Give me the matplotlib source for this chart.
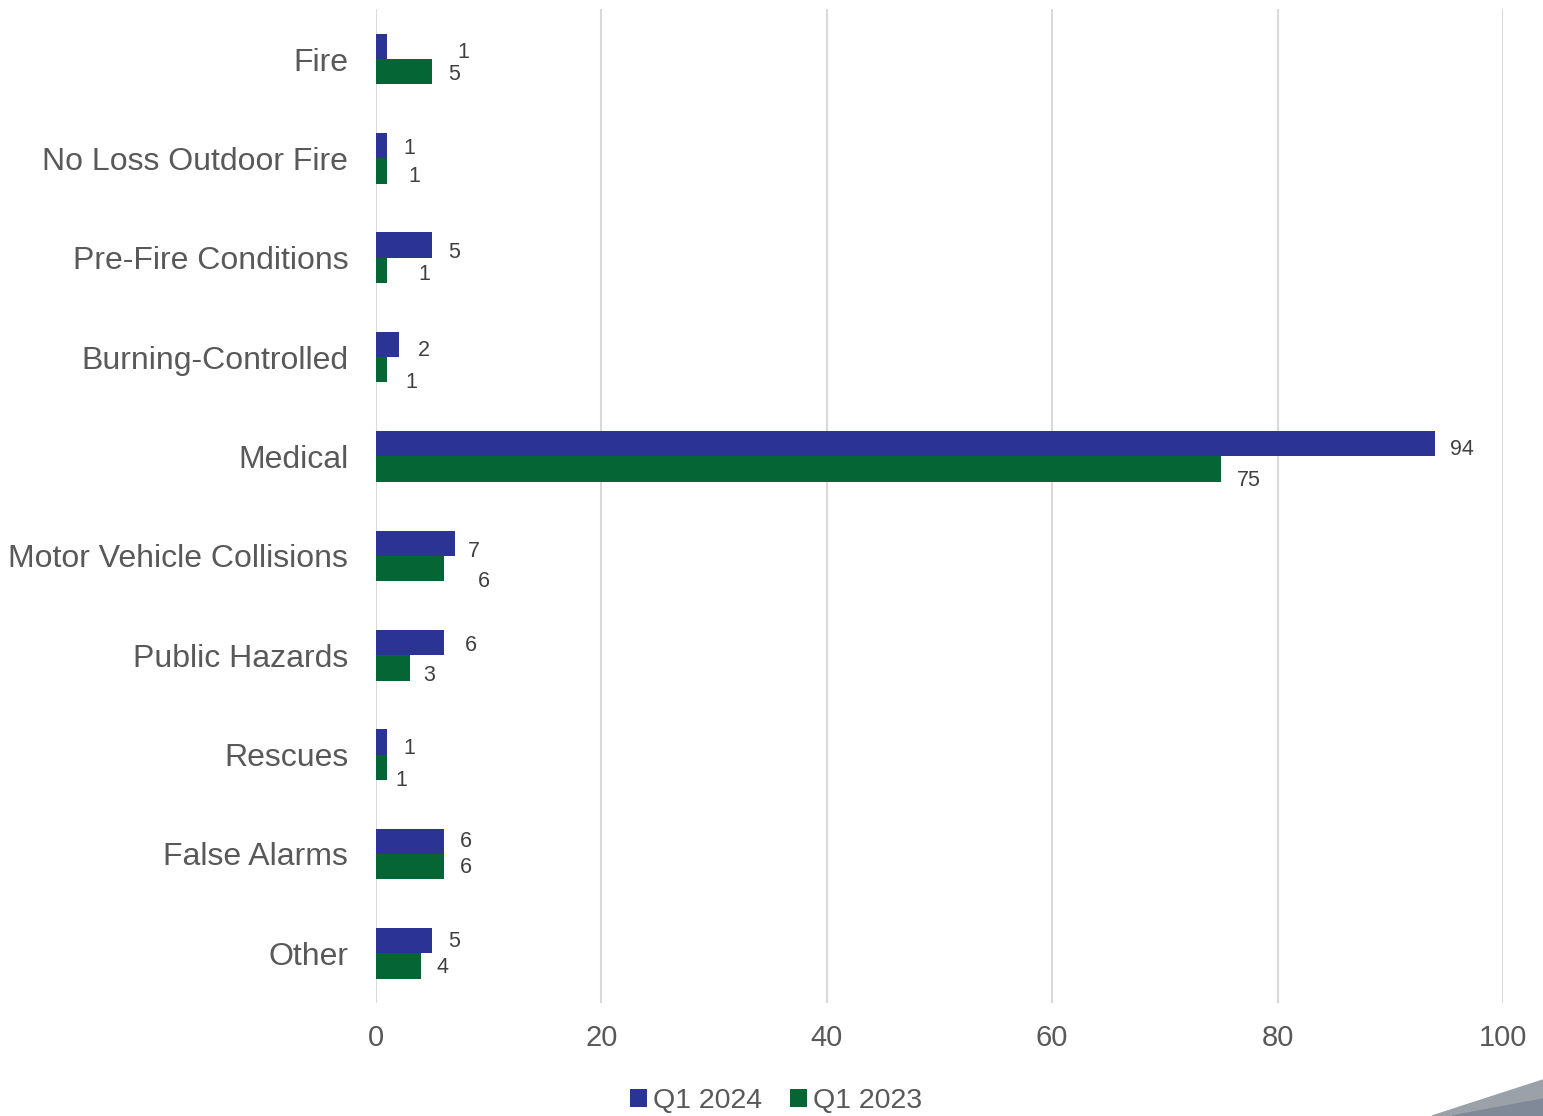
import matplotlib.pyplot as plt
import numpy as np
from matplotlib.patches import Polygon

plt.rcParams['font.family'] = ['Liberation Sans', 'DejaVu Sans']

categories = ["Fire", "No Loss Outdoor Fire", "Pre-Fire Conditions", "Burning-Controlled",
              "Medical", "Motor Vehicle Collisions", "Public Hazards", "Rescues",
              "False Alarms", "Other"]
q1_2024 = [1, 1, 5, 2, 94, 7, 6, 1, 6, 5]
q1_2023 = [5, 1, 1, 1, 75, 6, 3, 1, 6, 4]

# label nudges in pixels (dx, dy downwards) so the numbers sit like the original report
off_2024 = [(76, 6), (22, 3), (22, 7), (25, 6), (27, 6), (19, 8), (27, 3), (22, 7), (22, 0), (22, 1)]
off_2023 = [(22, 3), (27, 5), (37, 4), (24, 13), (28, 11), (40, 13), (19, 8), (14, 13), (22, 1), (21, 2)]

blue = "#2B3494"
green = "#066535"
text_col = "#595959"

fig = plt.figure(figsize=(15.43, 11.16), dpi=100)
ax = fig.add_axes([0.2437, 0.1013, 0.7303, 0.8903])

y = np.arange(len(categories))
h = 0.255
ax.barh(y - h / 2, q1_2024, height=h, color=blue, label="Q1 2024", zorder=3)
ax.barh(y + h / 2, q1_2023, height=h, color=green, label="Q1 2023", zorder=3)

for i in range(len(categories)):
    for val, yy, (dx, dy) in [(q1_2024[i], y[i] - h / 2, off_2024[i]),
                              (q1_2023[i], y[i] + h / 2, off_2023[i])]:
        ax.annotate(str(val), xy=(val, yy), xytext=(dx, -dy), textcoords="offset pixels",
                    ha="center", va="center", fontsize=15.5, color="#404040")

ax.set_ylim(len(categories) - 0.5, -0.5)
ax.set_xlim(0, 100)
ax.set_xticks(range(0, 101, 20))
ax.set_yticks(y)
ax.set_yticklabels(categories, fontsize=23, color=text_col)
ax.tick_params(axis="x", labelsize=21, labelcolor=text_col, length=0, pad=15)
ax.tick_params(axis="y", length=0, pad=20)
ax.grid(axis="x", color="#D9D9D9", linewidth=1.5, zorder=0)
for s in ax.spines.values():
    s.set_visible(False)

ax.legend(loc="center", bbox_to_anchor=(0.503, 0.013), ncol=2,
          frameon=False, fontsize=20.5, handlelength=0.6, handleheight=0.6,
          handletextpad=0.2, columnspacing=1.0, labelcolor=text_col,
          borderaxespad=0, borderpad=0, bbox_transform=fig.transFigure)

# corner decoration
W, H = 1543, 1116
fig.patches.append(Polygon([(1432 / W, 0), (1.0, 36 / H), (1.0, 0)], closed=True,
                           transform=fig.transFigure, color="#9BA1A9", zorder=5))
fig.patches.append(Polygon([(1452 / W, 0), (1.0, 17 / H), (1.0, 0)], closed=True,
                           transform=fig.transFigure, color="#808998", zorder=6))

fig.savefig("out.png", dpi=100)
